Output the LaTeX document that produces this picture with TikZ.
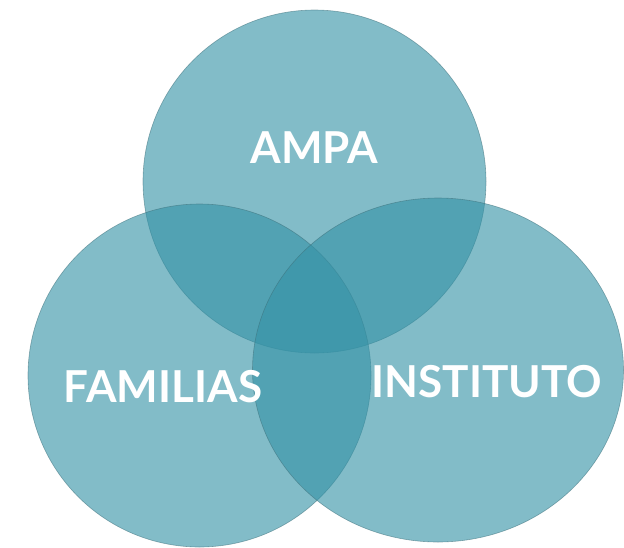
\documentclass[tikz,border=0pt]{standalone}
\usepackage{fontspec}
\setmainfont{Lato}
\definecolor{venn}{RGB}{52,146,166}
\definecolor{vennline}{RGB}{60,110,120}
\begin{document}
\begin{tikzpicture}[x=1pt,y=-1pt,
  venncircle/.style={fill=venn,fill opacity=0.616,draw=vennline,draw opacity=0.55,line width=0.6pt},
  vennlabel/.style={text=white,font=\fontsize{44}{44}\selectfont\bfseries,inner sep=0pt}]
\useasboundingbox (0,0) rectangle (624,547);
\clip (0,0) rectangle (624,547);
\path[venncircle] (314.5,181.5) circle[radius=171.5];
\path[venncircle] (199.5,375.5) circle[radius=171.5];
\path[venncircle] (438,370) ellipse[x radius=185.5,y radius=172];
\node[vennlabel] (ampa) at (314.5,147.5) {AMPA};
\node[vennlabel] (fam) at (163,386.5) {FAMILIAS};
\node[vennlabel] (inst) at (487,381.5) {INSTITUTO};
\end{tikzpicture}
\end{document}
